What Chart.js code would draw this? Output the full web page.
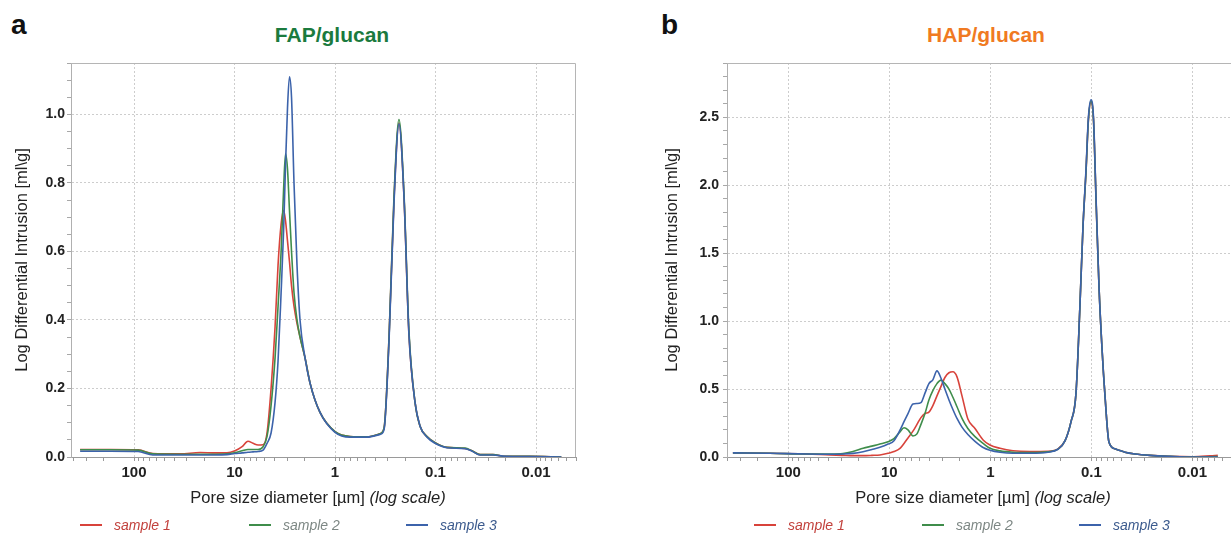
<!DOCTYPE html>
<html>
<head>
<meta charset="utf-8">
<script src="https://cdn.jsdelivr.net/npm/chart.js@4.4.1/dist/chart.umd.min.js"></script>
<style>
  html, body { margin: 0; padding: 0; background: #fff; overflow: hidden; }
  body { width: 1231px; height: 534px; position: relative; font-family: 'Liberation Sans', Arial, sans-serif; color: #222; }
  .box   { position: absolute; }
  .panel { position: absolute; top: 11px; font-weight: bold; font-size: 28px; line-height: 28px; color: #111; }
  .ttl   { position: absolute; top: 24px; width: 300px; text-align: center; font-weight: bold; font-size: 21px; line-height: 21px; }
  .xttl  { position: absolute; top: 489px; width: 400px; text-align: center; font-size: 16.5px; line-height: 17px; color: #222; }
  .leg   { position: absolute; top: 517px; height: 16px; display: flex; align-items: center; font-size: 14px; font-style: italic; }
  .leg i { display: inline-block; width: 22px; height: 0; border-top: 2px solid; margin-right: 12px; }
</style>
</head>
<body>

<div class="panel" style="left:11px">a</div>
<div class="panel" style="left:661px">b</div>
<div class="ttl" style="left:182px;color:#1b7a3e">FAP/glucan</div>
<div class="ttl" style="left:836px;color:#f07a22">HAP/glucan</div>

<div class="box" style="left:0;top:0;width:620px;height:534px"><canvas id="chartFap"></canvas></div>
<div class="box" style="left:650px;top:0;width:600px;height:534px"><canvas id="chartHap"></canvas></div>

<div class="xttl" style="left:118px">Pore size diameter [µm] <i>(log scale)</i></div>
<div class="xttl" style="left:783px">Pore size diameter [µm] <i>(log scale)</i></div>

<div id="legFap"></div>
<div id="legHap"></div>

<script>
// ── Datos ──────────────────────────────────────
const seriesLabels = ['sample 1', 'sample 2', 'sample 3'];
const lineColors   = ['#d8433b', '#3f8d4b', '#3c63ab'];
const legendColors = ['#c2413c', '#7d8784', '#3b5a8d'];

const xTickValues = [100, 10, 1, 0.1, 0.01];
const xTickLabels = ['100', '10', '1', '0.1', '0.01'];
const yTicksFap   = [0, 0.2, 0.4, 0.6, 0.8, 1.0];
const yTicksHap   = [0, 0.5, 1.0, 1.5, 2.0, 2.5];

// FAP/glucan  (diámetro en µm)
const diamFap = [344, 173, 91.2, 64.9, 34.9, 22.0, 15.6, 11.9, 9.89, 8.41,
                 7.35, 6.55, 5.83, 5.20, 4.75, 4.33, 3.95, 3.69, 3.44, 3.25,
                 3.11, 2.97, 2.84, 2.71, 2.56, 2.39, 2.23, 1.99, 1.77, 1.41,
                 1.00, 0.71, 0.48, 0.356, 0.325, 0.290, 0.259, 0.231, 0.206, 0.184,
                 0.160, 0.1425, 0.1215, 0.101, 0.0769, 0.0508, 0.0433, 0.036, 0.0268, 0.0203,
                 0.0115, 0.0056];
const fapS1 = [0.022, 0.022, 0.021, 0.010, 0.009, 0.013, 0.012, 0.012, 0.018, 0.030,
               0.046, 0.040, 0.035, 0.036, 0.07, 0.20, 0.38, 0.56, 0.68, 0.72,
               0.69, 0.63, 0.57, 0.50, 0.44, 0.39, 0.35, 0.29, 0.215, 0.13,
               0.074, 0.060, 0.059, 0.068, 0.085, 0.35, 0.75, 0.975, 0.76, 0.36,
               0.16, 0.09, 0.06, 0.042, 0.028, 0.025, 0.018, 0.007, 0.007, 0.002,
               0.002, 0.0];
const fapS2 = [0.021, 0.021, 0.020, 0.009, 0.008, 0.008, 0.008, 0.009, 0.013, 0.018,
               0.022, 0.022, 0.022, 0.03, 0.06, 0.15, 0.29, 0.44, 0.60, 0.78,
               0.885, 0.84, 0.72, 0.60, 0.48, 0.40, 0.35, 0.29, 0.215, 0.13,
               0.074, 0.060, 0.059, 0.068, 0.085, 0.35, 0.76, 0.985, 0.77, 0.37,
               0.16, 0.09, 0.06, 0.042, 0.028, 0.026, 0.018, 0.007, 0.007, 0.002,
               0.002, 0.0];
const fapS3 = [0.017, 0.017, 0.016, 0.006, 0.006, 0.006, 0.006, 0.007, 0.010, 0.012,
               0.014, 0.015, 0.016, 0.02, 0.04, 0.07, 0.16, 0.28, 0.48, 0.66,
               0.85, 1.02, 1.11, 1.05, 0.80, 0.56, 0.40, 0.29, 0.215, 0.13,
               0.072, 0.058, 0.058, 0.066, 0.08, 0.34, 0.74, 0.972, 0.76, 0.36,
               0.16, 0.09, 0.058, 0.04, 0.027, 0.024, 0.017, 0.006, 0.006, 0.002,
               0.001, 0.0];

// HAP/glucan
const diamHap = [354, 152, 65.4, 38.7, 28.8, 22.9, 18.2, 14.9, 12.4, 10.3,
                 9.0, 7.85, 7.16, 6.54, 5.84, 5.33, 4.87, 4.44, 4.06, 3.70,
                 3.38, 3.08, 2.82, 2.57, 2.35, 2.14, 1.91, 1.67, 1.42, 1.18,
                 1.01, 0.803, 0.597, 0.405, 0.269, 0.214, 0.182, 0.159, 0.142, 0.130,
                 0.121, 0.113, 0.107, 0.101, 0.0953, 0.090, 0.084, 0.0785, 0.0733, 0.067,
                 0.0584, 0.0465, 0.037, 0.0263, 0.0167, 0.00986, 0.0067, 0.0056];
const hapS1 = [0.030, 0.028, 0.022, 0.015, 0.012, 0.010, 0.010, 0.012, 0.015, 0.027,
               0.040, 0.064, 0.10, 0.14, 0.19, 0.24, 0.29, 0.32, 0.33, 0.38,
               0.45, 0.52, 0.585, 0.62, 0.627, 0.59, 0.45, 0.28, 0.21, 0.125,
               0.088, 0.064, 0.046, 0.040, 0.042, 0.06, 0.12, 0.26, 0.47, 1.10,
               1.70, 2.10, 2.48, 2.61, 2.48, 1.90, 1.25, 0.80, 0.45, 0.11,
               0.06, 0.035, 0.022, 0.012, 0.005, 0.002, 0.008, 0.012];
const hapS2 = [0.030, 0.028, 0.022, 0.022, 0.025, 0.040, 0.064, 0.080, 0.095, 0.112,
               0.135, 0.185, 0.215, 0.20, 0.155, 0.17, 0.24, 0.32, 0.42, 0.49,
               0.54, 0.566, 0.54, 0.50, 0.44, 0.37, 0.285, 0.21, 0.15, 0.10,
               0.064, 0.045, 0.035, 0.032, 0.038, 0.058, 0.12, 0.26, 0.47, 1.10,
               1.70, 2.10, 2.48, 2.62, 2.48, 1.90, 1.25, 0.80, 0.45, 0.11,
               0.06, 0.035, 0.022, 0.012, 0.005, 0.0, 0.002, 0.004];
const hapS3 = [0.030, 0.028, 0.022, 0.020, 0.022, 0.027, 0.039, 0.055, 0.071, 0.095,
               0.12, 0.198, 0.26, 0.32, 0.39, 0.394, 0.40, 0.47, 0.54, 0.57,
               0.634, 0.58, 0.50, 0.42, 0.35, 0.284, 0.22, 0.165, 0.115, 0.07,
               0.05, 0.035, 0.028, 0.028, 0.035, 0.057, 0.12, 0.26, 0.47, 1.10,
               1.70, 2.12, 2.50, 2.63, 2.50, 1.92, 1.25, 0.80, 0.45, 0.11,
               0.06, 0.035, 0.022, 0.012, 0.005, 0.0, 0.0, 0.0];

// ── Helpers ────────────────────────────────────
const FONT = "'Liberation Sans', Arial, sans-serif";

// marco superior y derecho del área de datos
const framePlugin = {
    id: 'frame',
    beforeDatasetsDraw(chart) {
        const { ctx, chartArea: a } = chart;
        ctx.save();
        ctx.strokeStyle = '#b5b5b5';
        ctx.lineWidth = 1;
        ctx.beginPath();
        ctx.moveTo(a.left, a.top + 0.5);
        ctx.lineTo(a.right - 0.5, a.top + 0.5);
        ctx.lineTo(a.right - 0.5, a.bottom);
        ctx.stroke();
        ctx.restore();
    }
};

function crearGrafico(id, diam, series, cfg) {
    const datasets = series.map((vals, i) => ({
        label: seriesLabels[i],
        data: vals.map((v, k) => ({ x: diam[k], y: v })),
        borderColor: lineColors[i],
        borderWidth: 1.6,
        pointRadius: 0,
        fill: false,
        order: series.length - 1 - i,   // sample 3 encima
        cubicInterpolationMode: 'monotone'
    }));

    return new Chart(document.getElementById(id), {
        type: 'line',
        data: { datasets },
        plugins: [framePlugin],
        options: {
            responsive: true,
            maintainAspectRatio: false,
            animation: false,
            layout: { padding: { left: 0, right: cfg.padRight, top: 63, bottom: 47 } },
            plugins: { legend: { display: false }, tooltip: { enabled: false } },
            scales: {
                x: {
                    type: 'logarithmic',
                    reverse: true,
                    min: cfg.xMin,
                    max: cfg.xMax,
                    afterBuildTicks: s => {
                        const t = [];
                        for (let e = -3; e <= 2; e++) {
                            for (let m = 1; m <= 9; m++) {
                                const v = +(m * Math.pow(10, e)).toPrecision(3);
                                if (v >= cfg.xMin && v <= cfg.xMax) t.push({ value: v, major: m === 1 });
                            }
                        }
                        s.ticks = t;
                    },
                    afterFit: s => { s.height = 30; },
                    ticks: {
                        autoSkip: false,
                        maxRotation: 0,
                        padding: 3,
                        color: '#222',
                        font: { family: FONT, size: 15, weight: 'bold' },
                        callback: v => {
                            const k = xTickValues.findIndex(t => Math.abs(t - v) / t < 1e-6);
                            return k >= 0 ? xTickLabels[k] : '';
                        }
                    },
                    grid: {
                        color: c => (c.tick && c.tick.major) ? '#cdcdcd' : 'rgba(0,0,0,0)',
                        tickColor: '#9a9a9a',
                        tickLength: 4,
                        tickBorderDash: []
                    },
                    border: { display: true, color: '#9a9a9a', dash: [2, 2] }
                },
                y: {
                    type: 'linear',
                    min: 0,
                    max: cfg.yMax,
                    afterBuildTicks: s => {
                        const t = [];
                        for (let v = 0; v <= cfg.yMax + 1e-9; v += cfg.yMinor) {
                            const val = +v.toFixed(3);
                            t.push({ value: val, major: cfg.yTicks.some(y => Math.abs(y - val) < 1e-6) });
                        }
                        s.ticks = t;
                    },
                    afterFit: s => { s.width = cfg.yWidth; },
                    ticks: {
                        autoSkip: false,
                        padding: cfg.yPad,
                        color: '#222',
                        font: { family: FONT, size: 14, weight: 'bold' },
                        callback: v => cfg.yTicks.some(y => Math.abs(y - v) < 1e-6) ? v.toFixed(1) : ''
                    },
                    grid: {
                        color: c => (c.tick && c.tick.major && c.tick.value > 0) ? '#cdcdcd' : 'rgba(0,0,0,0)',
                        tickColor: '#a8a8a8',
                        tickLength: 4,
                        tickBorderDash: []
                    },
                    border: { display: true, color: '#b0b0b0', dash: [2, 2] },
                    title: {
                        display: true,
                        text: 'Log Differential Intrusion [ml\\g]',
                        color: '#222',
                        padding: { top: cfg.titlePad, bottom: 0 },
                        font: { family: FONT, size: 16.5, weight: 'normal' }
                    }
                }
            }
        }
    });
}

function crearLeyenda(id, lefts) {
    const cont = document.getElementById(id);
    cont.innerHTML = seriesLabels.map((lab, i) =>
        `<div class="leg" style="left:${lefts[i]}px;color:${legendColors[i]}">` +
        `<i style="border-color:${lineColors[i]}"></i>${lab}</div>`
    ).join('');
}

// ── Gráficos ───────────────────────────────────
crearGrafico('chartFap', diamFap, [fapS1, fapS2, fapS3], {
    xMin: 0.0040, xMax: 424, yMax: 1.15, yMinor: 0.05, yTicks: yTicksFap,
    yWidth: 71, yPad: 2, padRight: 44, titlePad: 13
});
crearGrafico('chartHap', diamHap, [hapS1, hapS2, hapS3], {
    xMin: 0.0037, xMax: 405, yMax: 2.9, yMinor: 0.1, yTicks: yTicksHap,
    yWidth: 77, yPad: 4, padRight: 14, titlePad: 13
});

crearLeyenda('legFap', [80, 249, 406]);
crearLeyenda('legHap', [754, 922, 1079]);
</script>
</body>
</html>
